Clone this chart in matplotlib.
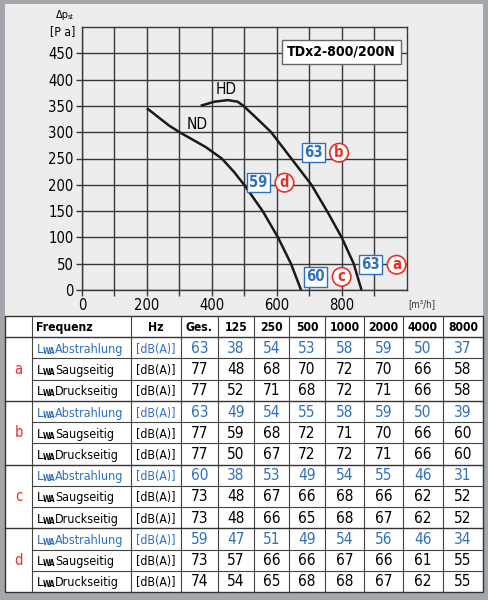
import matplotlib
matplotlib.use("Agg")
import matplotlib.pyplot as plt
from matplotlib import font_manager
from matplotlib.patches import Rectangle

# pick the narrowest installed sans font
names = {(f.name, str(f.stretch)) for f in font_manager.fontManager.ttflist}
if any(n == "Liberation Sans Narrow" for n, s in names):
    FAM, STR, SCALE = "Liberation Sans Narrow", "normal", 1.0
elif ("DejaVu Sans", "condensed") in names or ("DejaVu Sans", "semi-condensed") in names:
    FAM, STR, SCALE = "DejaVu Sans", "condensed", 0.92
else:
    FAM, STR, SCALE = "Liberation Sans", "normal", 0.9

plt.rcParams['font.family'] = [FAM, 'DejaVu Sans']
plt.rcParams['font.stretch'] = STR

# curve data
hd_x = [369, 408, 449, 479, 497, 540, 582, 644, 706, 754, 799, 836, 860]
hd_y = [351, 358, 361, 358, 350, 325, 300, 250, 200, 150, 100, 50, 0]
nd_x = [203, 236, 267, 300, 340, 380, 430, 467, 499, 556, 603, 643, 674]
nd_y = [344, 328, 313, 300, 286, 272, 250, 225, 200, 150, 100, 50, 0]

# operating point labels: (x, y, dB, letter)
points = [(711, 261, "63", "b"), (543, 204, "59", "d"),
          (888, 48, "63", "a"), (719, 25, "60", "c")]

# table
freqs = ["Ges.", "125", "250", "500", "1000", "2000", "4000", "8000"]
groups = ["a", "b", "c", "d"]
row_names = ["Abstrahlung", "Saugseitig", "Druckseitig"]
vals_a = [[63, 38, 54, 53, 58, 59, 50, 37],
          [77, 48, 68, 70, 72, 70, 66, 58],
          [77, 52, 71, 68, 72, 71, 66, 58]]
vals_b = [[63, 49, 54, 55, 58, 59, 50, 39],
          [77, 59, 68, 72, 71, 70, 66, 60],
          [77, 50, 67, 72, 72, 71, 66, 60]]
vals_c = [[60, 38, 53, 49, 54, 55, 46, 31],
          [73, 48, 67, 66, 68, 66, 62, 52],
          [73, 48, 66, 65, 68, 67, 62, 52]]
vals_d = [[59, 47, 51, 49, 54, 56, 46, 34],
          [73, 57, 66, 66, 67, 66, 61, 55],
          [74, 54, 65, 68, 68, 67, 62, 55]]

blue = "#2f6fbf"
red = "#e8302a"
W, H = 489, 600

def fs(v):
    return v * SCALE

fig = plt.figure(figsize=(W / 100, H / 100), dpi=100)
fig.patch.set_facecolor("#a3a7ab")

# background layer in pixel coordinates
bg = fig.add_axes([0, 0, 1, 1])
bg.set_xlim(0, W)
bg.set_ylim(H, 0)
bg.axis("off")
bg.add_patch(Rectangle((5, 4), 478, 312, facecolor="#ededed", edgecolor="none"))
bg.add_patch(Rectangle((5, 316), 478, 276, facecolor="white", edgecolor="#333333", lw=1))

# table layout
col_edges = [5, 32, 131, 181, 218, 254, 289, 325, 364, 403, 443, 483]
top = 316
rh = 276 / 13.0
lc = "#444444"
for xe in col_edges[1:-1]:
    bg.plot([xe, xe], [top, 592], color=lc, lw=0.8)
for i in range(1, 13):
    y = top + i * rh
    if (i - 1) % 3 == 0:
        bg.plot([5, 483], [y, y], color="#333333", lw=1.0)
    else:
        bg.plot([32, 483], [y, y], color=lc, lw=0.8)

def cx(i):
    return (col_edges[i] + col_edges[i + 1]) / 2

hy = top + rh / 2 + 4.5
bg.text(36, hy, "Frequenz", ha="left", va="baseline", fontsize=fs(9.5), fontweight="bold")
bg.text(cx(2), hy, "Hz", ha="center", va="baseline", fontsize=fs(9.5), fontweight="bold")
for j, f in enumerate(freqs):
    bg.text(cx(3 + j), hy, f, ha="center", va="baseline", fontsize=fs(9.5), fontweight="bold")

all_vals = [vals_a, vals_b, vals_c, vals_d]
for g, (letter, vals) in enumerate(zip(groups, all_vals)):
    gy = top + rh * (1 + 3 * g)
    bg.text(cx(0), gy + 1.5 * rh, letter, ha="center", va="center", fontsize=fs(11.5), color=red)
    for r in range(3):
        y = gy + rh * (r + 0.5) + 5
        c = blue if r == 0 else "black"
        bg.text(37, y, "L", ha="left", va="baseline", fontsize=fs(10.5), color=c)
        bg.text(43, y + 1, "WA", ha="left", va="baseline", fontsize=fs(6), color=c,
                fontweight="bold")
        bg.text(55, y, row_names[r], ha="left", va="baseline", fontsize=fs(9.8), color=c)
        bg.text(cx(2), y, "[dB(A)]", ha="center", va="baseline", fontsize=fs(9.6), color=c)
        for j, v in enumerate(vals[r]):
            bg.text(cx(3 + j), y, str(v), ha="center", va="baseline", fontsize=fs(12), color=c)

# chart
ax = fig.add_axes([82 / W, 1 - 290 / H, 325 / W, 263 / H])
ax.set_facecolor("#ededed")
ax.set_xlim(0, 1000)
ax.set_ylim(0, 500)
ax.set_xticks(range(0, 1000, 100))
ax.set_xticklabels([str(v) if v % 200 == 0 and v <= 800 else "" for v in range(0, 1000, 100)])
ax.set_yticks(range(0, 500, 50))
ax.set_yticklabels([str(v) for v in range(0, 500, 50)])
ax.grid(True, color="#383838", lw=1.0)
ax.set_axisbelow(True)
for s in ax.spines.values():
    s.set_color("#383838")
    s.set_linewidth(1.0)
ax.tick_params(direction="out", length=4, width=1.0, color="#383838",
               labelsize=fs(11.5), pad=2)

ax.plot(hd_x, hd_y, color="#1a1a1a", lw=1.8, solid_joinstyle="round")
ax.plot(nd_x, nd_y, color="#1a1a1a", lw=1.8, solid_joinstyle="round")
ax.text(444, 382, "HD", ha="center", va="center", fontsize=fs(12))
ax.text(354, 314, "ND", ha="center", va="center", fontsize=fs(12))
ax.text(798, 453, "TDx2-800/200N", ha="center", va="center", fontsize=fs(11),
        fontweight="bold",
        bbox=dict(boxstyle="square,pad=0.35", facecolor="white", edgecolor="#666666", lw=1))

for x, y, db, letter in points:
    ax.text(x, y, db, ha="center", va="center", fontsize=fs(11.5), fontweight="bold", color=blue,
            bbox=dict(boxstyle="square,pad=0.15", facecolor="white", edgecolor=blue, lw=1))
    ax.text(x + 80, y, letter, ha="center", va="center", fontsize=fs(11.5), fontweight="bold",
            color=red,
            bbox=dict(boxstyle="circle,pad=0.12", facecolor="white", edgecolor=red, lw=1.2))

bg.text(62, 15, "Δp", ha="center", va="center", fontsize=fs(8.5))
bg.text(68, 17, "st", ha="left", va="center", fontsize=fs(5.5))
bg.text(63, 32, "[P a]", ha="center", va="center", fontsize=fs(9.5))
bg.text(422, 304, "[m³/h]", ha="center", va="center", fontsize=fs(7.5), color="#333333")

fig.savefig("out.png", dpi=100, facecolor=fig.get_facecolor())
